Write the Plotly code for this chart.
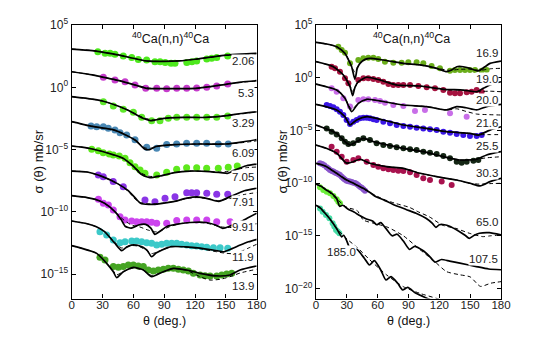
import numpy as np
import plotly.graph_objects as go

# ---------------- data (values are log10 of sigma, angles in degrees) ----------------
# LEFT PANEL
L1_label = "2.06"
L1_fit_th = [0, 20, 40, 60, 72, 90, 105, 120, 135, 150, 165, 180]
L1_fit = [3.07, 2.95, 2.68, 2.33, 2.12, 2.08, 2.12, 2.25, 2.42, 2.58, 2.67, 2.73]
L1_dash = [3.07, 2.95, 2.68, 2.33, 2.12, 2.08, 2.12, 2.25, 2.42, 2.56, 2.64, 2.70]
L1_pt_th = [25.4, 32.5, 37.4, 42.1, 50.2, 58.4, 64.8, 72.9, 81, 86, 91, 96.7, 100.5, 112, 117, 121.6, 131.4, 136.2, 141.1, 151.8]
L1_pt = [2.86, 2.73, 2.73, 2.65, 2.51, 2.40, 2.24, 2.19, 2.05, 2.05, 2.0, 1.93, 1.93, 2.0, 2.05, 2.11, 2.27, 2.33, 2.40, 2.51]

L2_label = "5.3"
L2_fit_th = [0, 20, 30, 45, 62, 73, 90, 105, 121, 135, 151, 165, 180]
L2_fit = [1.25, 1.0, 0.82, 0.55, 0.18, -0.08, -0.10, -0.10, -0.08, 0.05, 0.26, 0.42, 0.53]
L2_dash = [1.25, 1.0, 0.82, 0.55, 0.18, -0.05, -0.10, -0.10, -0.08, 0.05, 0.24, 0.40, 0.50]
L2_pt_th = [30.8, 42.1, 51.9, 61.6, 72.0, 82.7, 92.4, 102.2, 111.9, 121.6, 131.4, 141.1, 151.8]
L2_pt = [0.80, 0.59, 0.45, 0.18, -0.08, -0.08, -0.11, -0.08, -0.08, -0.05, 0.0, 0.10, 0.26]

L3_label = "3.29"
L3_fit_th = [0, 20, 30, 45, 55, 65, 70, 78, 85, 95, 110, 130, 150, 165, 180]
L3_fit = [-0.75, -0.95, -1.10, -1.50, -1.85, -2.30, -2.50, -2.68, -2.55, -2.45, -2.41, -2.42, -2.28, -2.10, -1.96]
L3_dash = [-0.75, -0.95, -1.10, -1.50, -1.85, -2.25, -2.45, -2.60, -2.55, -2.45, -2.41, -2.42, -2.30, -2.12, -1.98]
L3_pt_th = [30.8, 40.5, 50.2, 60, 68.1, 77.8, 85.9, 94, 102.2, 111.9, 121.6, 131.4, 141.1, 151.8]
L3_pt = [-1.15, -1.50, -1.77, -2.01, -2.41, -2.68, -2.68, -2.49, -2.41, -2.41, -2.41, -2.41, -2.41, -2.30]

L4_label = "6.09"
L4_fit_th = [0, 15, 25, 40, 52, 62, 71, 76, 82, 100, 125, 150, 165, 180]
L4_fit = [-2.76, -3.05, -3.20, -3.40, -3.80, -4.25, -4.95, -5.00, -4.75, -4.60, -4.55, -4.55, -4.40, -4.20]
L4_dash = [-2.76, -3.05, -3.20, -3.40, -3.80, -4.25, -4.85, -4.90, -4.75, -4.60, -4.55, -4.55, -4.45, -4.30]
L4_pt_th = [18.8, 24.3, 30.8, 35.6, 42.1, 47, 53.5, 61.6, 73, 82.7, 92.4, 102.1, 111.8, 121.6, 131.3, 142.6, 152.3]
L4_pt = [-3.11, -3.16, -3.16, -3.29, -3.43, -3.64, -3.83, -4.20, -4.82, -4.90, -4.60, -4.55, -4.50, -4.50, -4.50, -4.55, -4.55]

L5_label = "7.05"
L5_fit_th = [0, 10, 20, 30, 40, 50, 60, 68, 76, 86, 100, 115, 130, 145, 152, 160, 170, 180]
L5_fit = [-4.71, -4.80, -4.95, -5.15, -5.40, -5.70, -6.35, -7.00, -7.25, -7.12, -6.85, -6.72, -6.75, -6.85, -6.90, -6.60, -6.30, -6.16]
L5_dash = [-4.71, -4.80, -4.95, -5.15, -5.40, -5.70, -6.30, -6.90, -7.15, -7.10, -6.85, -6.72, -6.75, -6.80, -6.75, -6.60, -6.45, -6.40]
L5_pt_th = [19.5, 25.9, 30.7, 36.6, 40.5, 46.3, 51.9, 56.7, 61.6, 66.5, 71.3, 82.7, 92.4, 102.1, 111.8, 121.6, 131.3, 142.6, 152.3, 161.1]
L5_pt = [-4.98, -5.09, -5.25, -5.35, -5.43, -5.51, -5.70, -6.05, -6.37, -6.64, -6.90, -7.04, -6.82, -6.58, -6.45, -6.45, -6.50, -6.50, -6.42, -6.32]

L6_label = "7.91"
L6_fit_th = [0, 15, 30, 45, 55, 62, 67, 75, 83, 99, 112, 122, 133, 143, 155, 168, 180]
L6_fit = [-6.72, -6.80, -7.17, -7.75, -8.30, -8.90, -9.31, -9.40, -9.37, -9.18, -8.90, -8.80, -8.95, -9.15, -8.75, -8.30, -8.10]
L6_dash = [-6.72, -6.80, -7.17, -7.75, -8.35, -9.00, -9.25, -9.35, -9.35, -9.18, -8.92, -8.85, -8.95, -9.10, -8.90, -8.60, -8.45]
L6_pt_th = [25.9, 30.7, 40.4, 50.2, 71.3, 81, 90.8, 100.5, 111.9, 116.7, 121.6, 131.4, 141.1, 151.8]
L6_pt = [-7.04, -7.17, -7.57, -7.98, -9.04, -9.18, -8.91, -8.78, -8.46, -8.46, -8.46, -8.51, -8.59, -8.59]

L7_label = "9.91"
L7_fit_th = [0, 15, 23, 32, 42, 48, 52, 58, 65, 72, 77, 81, 86, 93, 105, 115, 131, 140, 147, 155, 164, 172, 180]
L7_fit = [-8.70, -8.85, -8.99, -9.31, -9.98, -10.60, -11.15, -11.30, -11.05, -11.00, -11.30, -11.80, -11.55, -11.15, -10.95, -10.85, -10.85, -11.05, -11.32, -11.10, -10.80, -10.45, -10.11]
L7_dash_th = [0, 15, 23, 32, 42, 50, 58, 66, 74, 81, 88, 95, 105, 115, 131, 145, 155, 165, 180]
L7_dash = [-8.70, -8.85, -8.99, -9.31, -9.98, -10.60, -11.05, -11.20, -11.45, -11.60, -11.45, -11.20, -10.95, -10.85, -10.90, -11.20, -11.25, -11.10, -10.95]
L7_pt_th = [26.0, 30.8, 35.7, 40.5, 47, 51.9, 58.4, 63.2, 68.1, 73, 77.8, 82.7, 92.4, 102.2, 111.9, 121.6, 131.4, 141.1, 154.1]
L7_pt = [-8.99, -9.31, -9.45, -9.85, -10.39, -10.65, -10.73, -10.79, -10.79, -10.79, -10.84, -10.92, -10.92, -10.70, -10.65, -10.65, -10.65, -10.79, -10.79]

L8_label = "11.9"
L8_fit_th = [0, 15, 24, 32, 42, 48.6, 53, 58, 65, 73, 77.8, 82, 88, 97, 110, 125, 141, 148, 156, 164, 172, 180]
L8_fit = [-10.73, -10.95, -11.19, -11.59, -12.52, -13.11, -12.85, -12.66, -12.70, -13.05, -13.60, -13.30, -13.05, -12.79, -12.80, -12.90, -13.11, -13.20, -12.95, -12.66, -12.40, -12.20]
L8_dash = [-10.73, -10.95, -11.19, -11.59, -12.45, -12.90, -12.80, -12.70, -12.75, -13.10, -13.35, -13.25, -13.05, -12.80, -12.80, -12.95, -13.20, -13.30, -13.35, -13.20, -12.90, -12.60]
L8_pt_th = [27.5, 34, 40.5, 47, 51.9, 58.4, 63.2, 68.1, 73, 77.8, 82.7, 87.5, 92.4, 97.3, 102.2, 107, 111.9, 116.7, 121.6, 126.5, 131.4, 137.9, 144.4, 151.8]
L8_pt = [-11.59, -11.85, -12.26, -12.47, -12.39, -12.34, -12.34, -12.39, -12.47, -12.52, -12.66, -12.60, -12.52, -12.52, -12.52, -12.60, -12.66, -12.71, -12.74, -12.79, -12.84, -12.87, -12.87, -12.92]

L9_label = "13.9"
L9_fit_th = [0, 24.3, 34, 40.5, 43.8, 50.2, 60, 69.7, 77.8, 89.2, 98.9, 111.9, 124.9, 141.1, 154.1, 163.8, 180]
L9_fit = [-12.71, -13.33, -14.13, -14.80, -15.28, -14.80, -14.45, -14.66, -15.20, -14.80, -14.53, -14.66, -14.93, -15.14, -15.06, -14.66, -14.34]
L9_dash_th = [0, 24.3, 34, 40.5, 43.8, 50.2, 60, 69.7, 77.8, 89.2, 98.9, 111.9, 124.9, 134.6, 145, 154, 164, 180]
L9_dash = [-12.71, -13.33, -14.13, -14.75, -15.05, -14.80, -14.50, -14.70, -15.10, -14.80, -14.55, -14.70, -15.20, -15.47, -15.40, -15.20, -14.90, -14.60]
L9_pt_th = [27.5, 32.4, 40.5, 45.4, 50.2, 55.1, 60, 64.8, 69.7, 74.6, 79.5, 84.3, 89.2, 94, 98.9, 103.8, 108.6, 113.5, 118.4, 124.9, 129.7, 134.6, 141.1, 146, 150.8, 155.7]
L9_pt = [-13.64, -13.86, -14.39, -14.45, -14.39, -14.26, -14.26, -14.34, -14.39, -14.66, -14.74, -14.66, -14.61, -14.53, -14.53, -14.61, -14.66, -14.74, -14.93, -15.06, -15.12, -15.14, -15.14, -15.06, -14.98, -14.93]

# RIGHT PANEL
R1_label = "16.9"
R1_fit_th = [0, 10.4, 20.1, 28.2, 32.4, 34.7, 37.9, 40.2, 42.8, 47.7, 52.5, 65.5, 85, 101.2, 117.4, 127.1, 132, 136.9, 143.3, 149.8, 157.9, 164.4, 169.3, 180]
R1_fit = [3.36, 3.20, 2.94, 2.31, 1.52, 1.04, -0.15, 0.89, 1.36, 1.74, 1.84, 1.68, 1.36, 1.21, 0.89, 0.57, 0.73, 1.04, 1.04, 0.89, 0.64, 1.04, 1.36, 1.58]
R1_dash_th = [0, 10.4, 20.1, 28.2, 32.4, 35, 38, 41, 45, 52.5, 65.5, 85, 101.2, 117.4, 130, 140, 150, 160, 170, 180]
R1_dash = [3.36, 3.20, 2.94, 2.31, 1.60, 1.00, 0.50, 1.20, 1.60, 1.84, 1.68, 1.36, 1.21, 0.90, 0.70, 0.80, 0.80, 0.70, 0.85, 0.89]
R1_pt_th = [21.7, 25, 28.2, 33.1, 41.2, 46.1, 50.9, 55.8, 60.6, 67.1, 75.2, 83.3, 89.8, 97.9, 104.4, 112.5, 120.6, 130.4, 135.2, 140.1, 145, 149.8, 154.7, 161.2, 166]
R1_pt = [2.94, 2.63, 2.37, 1.36, 1.68, 1.84, 1.90, 1.90, 1.77, 1.52, 1.43, 1.43, 1.46, 1.46, 1.36, 1.11, 0.89, 0.67, 0.73, 0.73, 0.73, 0.73, 0.73, 0.67, 0.73]

R2_label = "19.0"
R2_fit_th = [0, 16.9, 26.6, 33.1, 35.7, 37.9, 41.2, 49.3, 62.3, 78.5, 101.2, 123.9, 143.3, 156.3, 162.8, 169.3, 180]
R2_fit = [1.52, 1.04, 0.26, -0.85, -1.70, -0.91, -0.38, 0.04, -0.22, -0.69, -0.79, -1.10, -1.17, -1.33, -1.01, -0.69, -0.38]
R2_dash = [1.52, 1.04, 0.26, -0.75, -1.30, -0.90, -0.40, 0.04, -0.22, -0.69, -0.79, -1.10, -1.20, -1.33, -1.30, -1.28, -1.33]
R2_pt_th = [15.2, 18.5, 23.3, 28.2, 31.5, 41.2, 46.1, 50.9, 55.8, 60.6, 65.5, 70.4, 75.2, 80.1, 85, 91.5, 99.6, 107.7, 115.8, 123.9, 130.4, 135.2, 140.1, 146.6, 151.4, 156.3, 161.2]
R2_pt = [1.04, 0.89, 0.57, -0.06, -0.53, -0.22, -0.06, -0.06, -0.12, -0.22, -0.38, -0.60, -0.69, -0.69, -0.69, -0.69, -0.79, -0.91, -1.01, -1.17, -1.42, -1.48, -1.48, -1.39, -1.33, -1.17, -1.33]

R3_label = "20.0"
R3_fit_th = [0, 20.1, 28.2, 34.7, 41.2, 49.3, 62.3, 85, 107.7, 127.1, 136.9, 146, 156.3, 166, 180]
R3_fit = [-0.60, -1.17, -1.96, -3.22, -2.43, -2.05, -2.21, -2.59, -2.74, -3.06, -2.74, -2.85, -3.06, -2.74, -2.53]
R3_dash = [-0.60, -1.17, -1.96, -3.00, -2.43, -2.05, -2.21, -2.59, -2.74, -3.06, -2.95, -3.20, -3.45, -3.50, -3.54]
R3_pt_th = [15.2, 20.1, 26.6, 33.1, 41.2, 46.1, 50.9, 57.4, 62.3, 67.1, 75.2, 85, 96.3, 106, 130.4, 146.6]
R3_pt = [-1.01, -1.33, -1.96, -2.74, -2.11, -2.05, -2.05, -2.11, -2.21, -2.37, -2.59, -2.68, -3.16, -3.06, -3.38, -3.70]

R4_label = "21.6"
R4_fit_th = [0, 20.1, 28.2, 33.1, 39.6, 49.3, 65.5, 85, 107.7, 127.1, 149.8, 157.9, 169.3, 180]
R4_fit = [-2.53, -3.06, -3.70, -4.49, -4.01, -3.70, -4.01, -4.49, -4.81, -5.12, -5.28, -5.44, -4.97, -4.65]
R4_dash = [-2.53, -3.06, -3.70, -4.40, -4.01, -3.70, -4.01, -4.49, -4.81, -5.12, -5.28, -5.40, -5.40, -5.40]
R4_pt_th = [10.4, 13.6, 16.9, 20.1, 23.3, 26.6, 29.8, 33.1, 36.3, 39.6, 42.8, 46.1, 49.3, 52.5, 55.8, 59, 65.5, 72, 78.5, 85, 91.5, 97.9, 104.4, 110.9, 117.4, 123.9, 130.4, 136.9, 143.3, 149.8, 156.3, 161.2]
R4_pt = [-2.59, -2.68, -2.81, -3.00, -3.22, -3.54, -4.01, -4.39, -4.17, -4.01, -3.85, -3.79, -3.79, -3.85, -3.95, -4.01, -4.17, -4.33, -4.49, -4.58, -4.65, -4.74, -4.81, -4.90, -4.97, -5.12, -5.22, -5.35, -5.44, -5.53, -5.53, -5.44]

R5_label = "25.5"
R5_fit_th = [0, 20.1, 28.2, 33.1, 39.6, 46.1, 55.8, 65.5, 85, 104.4, 123.9, 140.1, 156.3, 166, 180]
R5_fit = [-4.49, -5.28, -6.07, -6.39, -6.07, -5.75, -6.07, -6.29, -6.70, -7.02, -7.49, -7.81, -7.74, -7.33, -7.02]
R5_dash = [-4.49, -5.28, -6.07, -6.35, -6.07, -5.75, -6.07, -6.29, -6.70, -7.02, -7.49, -7.81, -7.74, -7.60, -7.50]
R5_pt_th = [10.4, 15.2, 20.1, 25, 28.2, 31.5, 36.3, 41.2, 46.1, 52.5, 59, 65.5, 72, 78.5, 85, 91.5, 97.9, 104.4, 110.9, 117.4, 123.9, 130.4, 136.9, 141.7, 146.6, 153.1, 157.9]
R5_pt = [-4.81, -5.12, -5.38, -5.75, -6.07, -6.29, -6.23, -5.91, -5.75, -5.91, -6.23, -6.39, -6.48, -6.61, -6.70, -6.80, -6.86, -7.02, -7.11, -7.24, -7.43, -7.65, -7.97, -8.06, -7.97, -7.87, -7.81]

R6_label = "30.3"
R6_fit_th = [0, 10, 20.1, 29.8, 36.3, 42.8, 52.5, 68.8, 85, 101.2, 117.4, 136.9, 149.8, 159.6, 169.3, 180]
R6_fit = [-6.39, -6.70, -7.17, -8.12, -7.97, -7.74, -8.12, -8.44, -8.60, -9.07, -9.39, -9.71, -10.02, -10.27, -9.86, -9.55]
R6_dash = [-6.39, -6.70, -7.17, -8.05, -7.97, -7.74, -8.12, -8.44, -8.60, -9.07, -9.39, -9.71, -10.02, -10.10, -10.05, -10.02]
R6_pt_th = [15.2, 20.1, 25, 29.8, 36.3, 41.2, 49.3, 55.8, 60.6, 65.5, 70.4, 75.2, 80.1, 85, 91.5, 97.9, 104.4, 110.9, 122.3, 132]
R6_pt = [-6.55, -7.02, -7.49, -7.97, -7.81, -7.65, -7.97, -8.28, -8.44, -8.60, -8.69, -8.76, -8.82, -8.85, -8.98, -9.23, -9.55, -9.71, -9.86, -10.18]

R7_label = "65.0"
R7_fit_th = [0, 5, 10.4, 15, 20.1, 25, 29.8, 35, 39.6, 46, 52.5, 58.4, 66, 74.6, 87.6, 97.3, 107, 113, 116.7, 120, 125, 130, 139.4, 145, 149.2, 154, 159, 168.6, 180]
R7_fit = [-8.12, -8.25, -8.44, -8.75, -9.07, -9.40, -9.71, -9.95, -10.18, -10.50, -10.90, -11.30, -11.60, -12.00, -12.50, -12.86, -13.34, -13.80, -14.20, -13.95, -13.95, -14.10, -14.60, -14.95, -15.24, -14.95, -14.76, -14.70, -14.92]
R7_dash_th = [0, 10.4, 20.1, 29.8, 39.6, 52.5, 66, 78, 90.8, 100, 110.3, 123.2, 136.2, 149.2, 162.2, 170, 180]
R7_dash = [-8.12, -8.44, -9.07, -9.71, -10.18, -10.90, -11.55, -11.95, -12.30, -12.75, -13.20, -14.00, -14.30, -14.76, -15.08, -15.00, -14.92]
R7_pt_th = [3.9, 6, 8, 10.4, 12, 13.6, 15.5, 16.9, 18.5, 20.1, 22, 23.3, 25, 26.6, 28, 29.8, 31.5, 33.1, 34.7, 36.3, 38, 39.6, 41.2, 42.8, 44.5, 46.1, 47.7]
R7_pt = [-8.12, -8.20, -8.30, -8.50, -8.62, -8.76, -8.85, -8.91, -9.00, -9.07, -9.15, -9.23, -9.40, -9.55, -9.67, -9.77, -9.82, -9.86, -9.90, -9.96, -10.00, -10.08, -10.20, -10.34, -10.45, -10.59, -10.72]

R8_label = "107.5"
R8_fit_th = [0, 5, 10, 15, 20, 23, 26, 31, 37, 43, 49, 55, 59, 63, 68, 74, 79, 85, 91, 96, 104, 110, 116, 122, 130, 140, 155, 168, 180]
R8_fit = [-10.09, -10.30, -10.65, -10.95, -11.44, -12.20, -12.10, -12.45, -12.75, -13.10, -13.40, -13.60, -13.95, -13.75, -14.30, -15.00, -14.85, -15.50, -16.30, -16.00, -16.40, -16.90, -17.50, -17.25, -17.40, -17.60, -17.90, -18.15, -18.22]
R8_dash_th = [0, 10, 20, 30, 40, 46, 60, 70, 85, 101, 115, 127, 140, 150, 160, 170, 180]
R8_dash = [-10.09, -10.65, -11.50, -12.30, -12.60, -13.50, -13.90, -14.20, -15.00, -16.30, -17.40, -18.40, -18.70, -18.90, -19.80, -19.50, -19.35]
R8_pt_th = [3.9, 7.1, 10.4, 13.6, 16.9, 20.1, 21.7, 23.3]
R8_pt = [-10.40, -10.65, -10.81, -10.97, -11.22, -11.54, -11.76, -11.92]

R9_label = "185.0"
R9_fit_th = [0, 3, 13, 20, 25, 27, 30, 34, 37, 40.5, 47, 52, 56.8, 63, 68, 73, 79.5, 84.3, 89.2, 97.3, 110.3, 116]
R9_fit = [-12.10, -12.25, -13.34, -14.30, -15.10, -14.95, -15.50, -16.41, -16.20, -16.34, -17.13, -17.77, -17.36, -18.24, -19.19, -18.87, -19.51, -20.14, -19.89, -20.46, -21.02, -21.30]
R9_dash_th = [0, 10, 20, 30, 40, 52.5, 68.8, 85, 101, 117, 125]
R9_dash = [-12.10, -13.00, -14.30, -15.30, -16.10, -17.30, -18.72, -19.83, -20.46, -20.93, -21.20]
R9_pt_th = [3.9, 6.5, 9.7, 13, 16.2, 17.8, 19.5, 21.1, 22.7]
R9_pt = [-12.40, -12.71, -13.02, -13.34, -13.81, -14.13, -14.45, -14.60, -14.76]

# colours of the data points
L_colors = ["#4de81c", "#c63ccc", "#5ee82a", "#4a88b4", "#5ee81c", "#8a35e6", "#cc44ee", "#3cc9c9", "#45a423"]
R_colors = ["#6aae1a", "#a5133f", "#c86ee8", "#3a16e6", "#142614", "#a8124e", "#8a55cc", "#6bee3a", "#46dca6"]

left_sets = [
    (L1_label, L1_fit_th, L1_fit, L1_fit_th, L1_dash, L1_pt_th, L1_pt),
    (L2_label, L2_fit_th, L2_fit, L2_fit_th, L2_dash, L2_pt_th, L2_pt),
    (L3_label, L3_fit_th, L3_fit, L3_fit_th, L3_dash, L3_pt_th, L3_pt),
    (L4_label, L4_fit_th, L4_fit, L4_fit_th, L4_dash, L4_pt_th, L4_pt),
    (L5_label, L5_fit_th, L5_fit, L5_fit_th, L5_dash, L5_pt_th, L5_pt),
    (L6_label, L6_fit_th, L6_fit, L6_fit_th, L6_dash, L6_pt_th, L6_pt),
    (L7_label, L7_fit_th, L7_fit, L7_dash_th, L7_dash, L7_pt_th, L7_pt),
    (L8_label, L8_fit_th, L8_fit, L8_fit_th, L8_dash, L8_pt_th, L8_pt),
    (L9_label, L9_fit_th, L9_fit, L9_dash_th, L9_dash, L9_pt_th, L9_pt),
]
right_sets = [
    (R1_label, R1_fit_th, R1_fit, R1_dash_th, R1_dash, R1_pt_th, R1_pt),
    (R2_label, R2_fit_th, R2_fit, R2_fit_th, R2_dash, R2_pt_th, R2_pt),
    (R3_label, R3_fit_th, R3_fit, R3_fit_th, R3_dash, R3_pt_th, R3_pt),
    (R4_label, R4_fit_th, R4_fit, R4_fit_th, R4_dash, R4_pt_th, R4_pt),
    (R5_label, R5_fit_th, R5_fit, R5_fit_th, R5_dash, R5_pt_th, R5_pt),
    (R6_label, R6_fit_th, R6_fit, R6_fit_th, R6_dash, R6_pt_th, R6_pt),
    (R7_label, R7_fit_th, R7_fit, R7_dash_th, R7_dash, R7_pt_th, R7_pt),
    (R8_label, R8_fit_th, R8_fit, R8_dash_th, R8_dash, R8_pt_th, R8_pt),
    (R9_label, R9_fit_th, R9_fit, R9_dash_th, R9_dash, R9_pt_th, R9_pt),
]

# label placement (pixel positions in the 554x337 window)
L_label_y = [61, 93.3, 122.7, 152.7, 176.7, 201.7, 226.7, 256.7, 286]
R_label_y = [53.3, 79, 100, 123.3, 145.7, 173.3, 222.3, 259, 252]

# the page body has an 8px margin: the figure is drawn 8px in from the window corner
OFF = 8
W, H = 554 - OFF, 337 - OFF
FONT = "Liberation Sans, Arial, Helvetica, sans-serif"


def px(x):
    return (x - OFF) / W


def py(y):
    return 1 - (y - OFF) / H


fig = go.Figure()


def add_sets(sets, colors, xa, ya, msize):
    for (lab, fth, fv, dth, dv, pth, pv), col in zip(sets, colors):
        fig.add_trace(go.Scatter(x=pth, y=10 ** np.array(pv), mode="markers",
                                 marker=dict(color=col, size=msize, line=dict(width=0)),
                                 xaxis=xa, yaxis=ya, showlegend=False, cliponaxis=True))
        fig.add_trace(go.Scatter(x=dth, y=10 ** np.array(dv), mode="lines",
                                 line=dict(color="black", width=1, dash="4px,3px", shape="spline", smoothing=0.6),
                                 xaxis=xa, yaxis=ya, showlegend=False))
        fig.add_trace(go.Scatter(x=fth, y=10 ** np.array(fv), mode="lines",
                                 line=dict(color="black", width=1.7, shape="spline", smoothing=0.6),
                                 xaxis=xa, yaxis=ya, showlegend=False))


add_sets(left_sets, L_colors, "x", "y", 7)
add_sets(right_sets, R_colors, "x2", "y2", 6)

xl = [px(71.7), px(256.7)]
xr = [px(316), px(501)]
yd = [py(298.5), py(25)]


def ytick(lo):
    vals = [e for e in range(5, lo - 1, -5)]
    txt = ["10<sup>%s</sup>" % (str(e).replace("-", "\u2212")) for e in vals]
    return [10.0 ** e for e in vals], txt


axis_common = dict(showline=True, linecolor="black", linewidth=1.3, mirror="ticks",
                   ticks="inside", ticklen=4, tickwidth=1, tickcolor="black",
                   showgrid=False, zeroline=False, automargin=False)
yfont = dict(family=FONT, size=12, color="#222")
xfont = dict(family=FONT, size=11.5, color="#222")
xticks = dict(range=[0, 180], tickvals=[0, 30, 60, 90, 120, 150, 180], ticklabelstandoff=-4, tickfont=xfont)

ltv, ltt = ytick(-15)
rtv, rtt = ytick(-20)
fig.update_layout(
    template="none",
    width=W, height=H, autosize=False, margin=dict(l=0, r=0, t=0, b=0, pad=0),
    paper_bgcolor="white", plot_bgcolor="white", showlegend=False,
    xaxis=dict(domain=xl, anchor="y", **xticks, **axis_common),
    yaxis=dict(domain=yd, type="log", range=[-16.95, 5], tickvals=ltv, ticktext=ltt, anchor="x",
               tickfont=yfont, **axis_common),
    xaxis2=dict(domain=xr, anchor="y2", **xticks, **axis_common),
    yaxis2=dict(domain=yd, type="log", range=[-20.95, 5], tickvals=rtv, ticktext=rtt, anchor="x2",
                tickfont=yfont, **axis_common),
)

ann = []
for lab, yp in zip([s[0] for s in left_sets], L_label_y):
    ann.append(dict(x=px(255), y=py(yp), xref="paper", yref="paper", text=lab, xanchor="right",
                    yanchor="middle", showarrow=False,
                    font=dict(family=FONT, size=11.5, color="#222"), bgcolor="white", borderpad=0))
for lab, yp in zip([s[0] for s in right_sets], R_label_y):
    cx, xa = (341, "center") if lab == "185.0" else (499, "right")
    ann.append(dict(x=px(cx), y=py(yp), xref="paper", yref="paper", text=lab, xanchor=xa,
                    yanchor="middle", showarrow=False,
                    font=dict(family=FONT, size=11.5, color="#222"), bgcolor="white", borderpad=0))

title_txt = "<sup>40</sup>Ca(n,n)<sup>40</sup>Ca"
for cx in (170, 411.7):
    ann.append(dict(x=px(cx), y=py(38), xref="paper", yref="paper", text=title_txt, xanchor="center",
                    yanchor="middle", showarrow=False, font=dict(family=FONT, size=12.5, color="#111")))
for cx in (38, 282):
    ann.append(dict(x=px(cx), y=py(161.5), xref="paper", yref="paper", text="\u03c3 (\u03b8) mb/sr",
                    textangle=-90, xanchor="center", yanchor="middle", showarrow=False,
                    font=dict(family=FONT, size=13, color="#111")))
for cx in (164, 408.5):
    ann.append(dict(x=px(cx), y=py(320.5), xref="paper", yref="paper", text="\u03b8 (deg.)", xanchor="center",
                    yanchor="middle", showarrow=False, font=dict(family=FONT, size=12.5, color="#111")))
fig.update_layout(annotations=ann)

fig.write_html("out.html")
